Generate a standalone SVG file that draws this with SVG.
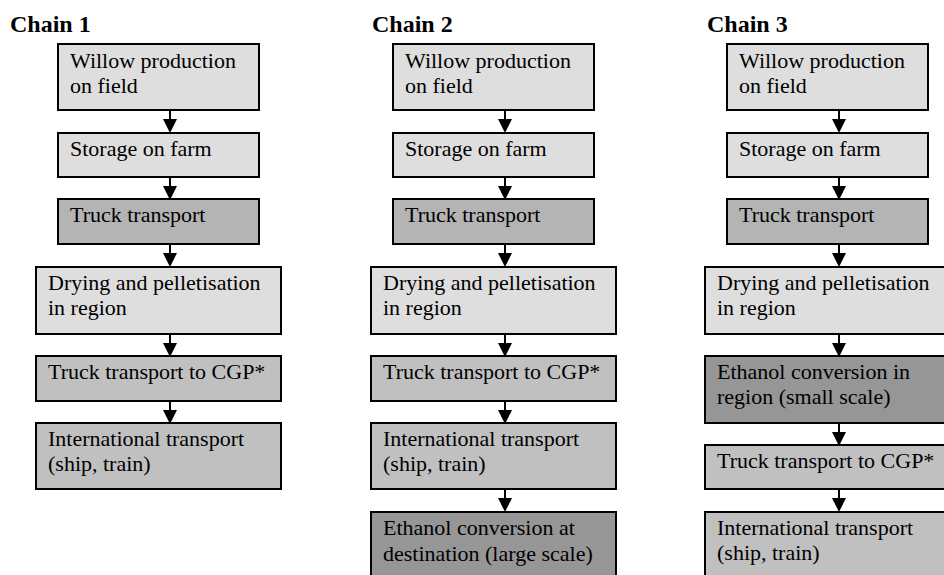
<svg xmlns="http://www.w3.org/2000/svg" width="944" height="575" viewBox="0 0 944 575">
  <style>
    .title { font-family: 'Liberation Serif', Tinos, 'Times New Roman', Times, 'DejaVu Serif', serif; font-weight: bold; font-size: 24px; fill: #000; }
    .label { font-family: 'Liberation Serif', Tinos, 'Times New Roman', Times, 'DejaVu Serif', serif; font-size: 22px; fill: #000; }
    .box { stroke: #000; stroke-width: 2; }
    .light { fill: #dedede; }
    .mid { fill: #b4b4b4; }
    .pale { fill: #c0c0c0; }
    .dark { fill: #969696; }
    .link { stroke: #000; stroke-width: 2; fill: none; }
    .head { fill: #000; }
  </style>
  <defs>
    <!-- vertical arrow: shaft from y=0 to tip at y=22 -->
    <g id="arrow">
      <line class="link" x1="0" y1="0" x2="0" y2="10"/>
      <polygon class="head" points="-7,8 7,8 0,22"/>
    </g>
  </defs>
  <rect width="944" height="575" fill="#fff"/>

  <!-- Titles -->
  <text class="title" x="10" y="32" font-family="Liberation Serif, serif">Chain 1</text>
  <text class="title" x="372" y="32" font-family="Liberation Serif, serif">Chain 2</text>
  <text class="title" x="707" y="32" font-family="Liberation Serif, serif">Chain 3</text>

  <!-- Chain 1 -->
  <g id="c1-willow"><rect class="box light" x="58" y="44" width="201" height="66"/><text class="label" x="70" y="68">Willow production</text><text class="label" x="70" y="93">on field</text></g>
  <g id="c1-storage"><rect class="box light" x="58" y="133" width="201" height="44"/><text class="label" x="70" y="156">Storage on farm</text></g>
  <g id="c1-truck"><rect class="box mid" x="58" y="199" width="201" height="45"/><text class="label" x="70" y="222">Truck transport</text></g>
  <g id="c1-drying"><rect class="box light" x="36" y="267" width="245" height="67"/><text class="label" x="48" y="290">Drying and pelletisation</text><text class="label" x="48" y="315">in region</text></g>
  <g id="c1-cgp"><rect class="box pale" x="36" y="356" width="245" height="45"/><text class="label" x="48" y="379">Truck transport to CGP*</text></g>
  <g id="c1-intl"><rect class="box pale" x="36" y="423" width="245" height="66"/><text class="label" x="48" y="446">International transport</text><text class="label" x="48" y="471">(ship, train)</text></g>

  <!-- Chain 2 -->
  <g id="c2-willow"><rect class="box light" x="393" y="44" width="201" height="66"/><text class="label" x="405" y="68">Willow production</text><text class="label" x="405" y="93">on field</text></g>
  <g id="c2-storage"><rect class="box light" x="393" y="133" width="201" height="44"/><text class="label" x="405" y="156">Storage on farm</text></g>
  <g id="c2-truck"><rect class="box mid" x="393" y="199" width="201" height="45"/><text class="label" x="405" y="222">Truck transport</text></g>
  <g id="c2-drying"><rect class="box light" x="371" y="267" width="245" height="67"/><text class="label" x="383" y="290">Drying and pelletisation</text><text class="label" x="383" y="315">in region</text></g>
  <g id="c2-cgp"><rect class="box pale" x="371" y="356" width="245" height="45"/><text class="label" x="383" y="379">Truck transport to CGP*</text></g>
  <g id="c2-intl"><rect class="box pale" x="371" y="423" width="245" height="66"/><text class="label" x="383" y="446">International transport</text><text class="label" x="383" y="471">(ship, train)</text></g>
  <g id="c2-ethanol"><rect class="box dark" x="371" y="512" width="245" height="70"/><text class="label" x="383" y="535">Ethanol conversion at</text><text class="label" x="383" y="561">destination (large scale)</text></g>

  <!-- Chain 3 -->
  <g id="c3-willow"><rect class="box light" x="727" y="44" width="201" height="66"/><text class="label" x="739" y="68">Willow production</text><text class="label" x="739" y="93">on field</text></g>
  <g id="c3-storage"><rect class="box light" x="727" y="133" width="201" height="44"/><text class="label" x="739" y="156">Storage on farm</text></g>
  <g id="c3-truck"><rect class="box mid" x="727" y="199" width="201" height="45"/><text class="label" x="739" y="222">Truck transport</text></g>
  <g id="c3-drying"><rect class="box light" x="705" y="267" width="245" height="67"/><text class="label" x="717" y="290">Drying and pelletisation</text><text class="label" x="717" y="315">in region</text></g>
  <g id="c3-ethanol"><rect class="box dark" x="705" y="356" width="245" height="67"/><text class="label" x="717" y="379">Ethanol conversion in</text><text class="label" x="717" y="404">region (small scale)</text></g>
  <g id="c3-cgp"><rect class="box pale" x="705" y="445" width="245" height="44"/><text class="label" x="717" y="468">Truck transport to CGP*</text></g>
  <g id="c3-intl"><rect class="box pale" x="705" y="512" width="245" height="70"/><text class="label" x="717" y="535">International transport</text><text class="label" x="717" y="560">(ship, train)</text></g>

  <!-- Connectors -->
  <g id="connectors">
    <use href="#arrow" x="170" y="111"/>
    <use href="#arrow" x="170" y="178"/>
    <use href="#arrow" x="170" y="245"/>
    <use href="#arrow" x="170" y="335"/>
    <use href="#arrow" x="170" y="402"/>

    <use href="#arrow" x="505" y="111"/>
    <use href="#arrow" x="505" y="178"/>
    <use href="#arrow" x="505" y="245"/>
    <use href="#arrow" x="505" y="335"/>
    <use href="#arrow" x="505" y="402"/>
    <use href="#arrow" x="505" y="490"/>

    <use href="#arrow" x="839" y="111"/>
    <use href="#arrow" x="839" y="178"/>
    <use href="#arrow" x="839" y="245"/>
    <use href="#arrow" x="839" y="335"/>
    <use href="#arrow" x="839" y="424"/>
    <use href="#arrow" x="839" y="490"/>
  </g>
</svg>
